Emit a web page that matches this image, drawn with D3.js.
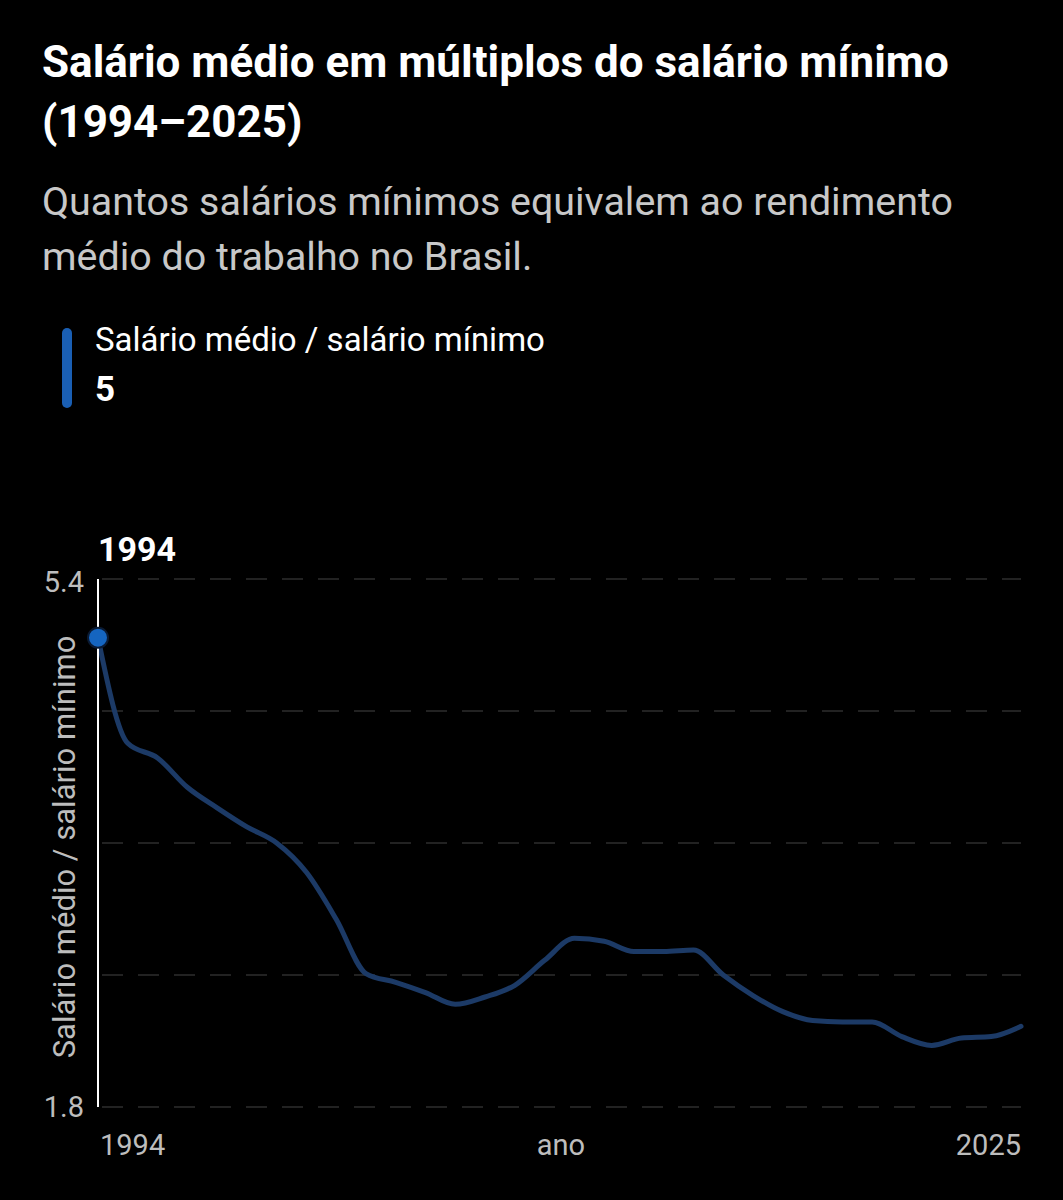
<!DOCTYPE html>
<html>
<head>
<meta charset="utf-8">
<script src="https://cdn.jsdelivr.net/npm/d3@7"></script>
<style>
  html, body { margin: 0; padding: 0; background: #000; }
  svg { display: block; font-family: Roboto, "Noto Sans", sans-serif; }
</style>
</head>
<body>
<div id="chart"></div>
<script>
// dados
var years = d3.range(1994, 2026)
var ratio = [5.0, 4.28, 4.18, 3.98, 3.84, 3.71, 3.60, 3.40, 3.08, 2.71,
             2.65, 2.58, 2.50, 2.55, 2.63, 2.80, 2.95, 2.93, 2.86, 2.86,
             2.87, 2.70, 2.56, 2.45, 2.39, 2.38, 2.38, 2.28, 2.22, 2.27,
             2.28, 2.35]
var yTicks = [5.4, 1.8]
var yGrid = [5.4, 4.5, 3.6, 2.7, 1.8]
var xTicks = [1994, 2025]

const svgWidth = 1063
const svgHeight = 1200
var plot = {left: 98, right: 1021, top: 579, bottom: 1107}

var svg = d3.select("#chart").append("svg")
    .attr("width", svgWidth)
    .attr("height", svgHeight)

// título e subtítulo
svg.append("text").attr("x", 42).attr("y", 77)
    .attr("fill", "#fff").style("font-size", "44px").style("font-weight", "700")
    .text("Salário médio em múltiplos do salário mínimo")
svg.append("text").attr("x", 42).attr("y", 137)
    .attr("fill", "#fff").style("font-size", "44px").style("font-weight", "700")
    .text("(1994–2025)")
svg.append("text").attr("x", 42).attr("y", 215)
    .attr("fill", "#c8c8c8").style("font-size", "39.4px")
    .text("Quantos salários mínimos equivalem ao rendimento")
svg.append("text").attr("x", 42).attr("y", 270)
    .attr("fill", "#c8c8c8").style("font-size", "39.4px")
    .text("médio do trabalho no Brasil.")

// legenda
svg.append("rect").attr("x", 62).attr("y", 328).attr("width", 10).attr("height", 80)
    .attr("rx", 5).attr("fill", "#1a5fb4")
svg.append("text").attr("x", 95).attr("y", 351)
    .attr("fill", "#fff").style("font-size", "33px")
    .text("Salário médio / salário mínimo")
svg.append("text").attr("x", 95).attr("y", 401)
    .attr("fill", "#fff").style("font-size", "35px").style("font-weight", "700")
    .text(d3.format(".0f")(ratio[0]))

var x = d3.scaleLinear().domain([1994, 2025]).range([plot.left, plot.right])
var y = d3.scaleLinear().domain([1.8, 5.4]).range([plot.bottom, plot.top])

// grade tracejada
svg.append("g").selectAll("line").data(yGrid).enter().append("line")
    .attr("x1", plot.left + 4).attr("x2", plot.right)
    .attr("y1", d => y(d)).attr("y2", d => y(d))
    .attr("stroke", "#2e2e2e").attr("stroke-width", 1.5)
    .attr("stroke-dasharray", "21,15")

// rótulos do eixo y
svg.append("g").selectAll("text").data(yTicks).enter().append("text")
    .attr("x", plot.left - 14).attr("y", (d, i) => y(d) + (i === 0 ? 13 : 10))
    .attr("text-anchor", "end").attr("fill", "#bdbdbd")
    .style("font-size", "29px")
    .text(d => d.toFixed(1))

svg.append("text")
    .attr("transform", "translate(75," + ((plot.top + plot.bottom) / 2 + 4) + ") rotate(-90)")
    .attr("text-anchor", "middle").attr("fill", "#bdbdbd")
    .style("font-size", "31px")
    .text("Salário médio / salário mínimo")

// rótulos do eixo x
svg.append("g").selectAll("text").data(xTicks).enter().append("text")
    .attr("x", (d, i) => i === 0 ? x(d) + 2 : x(d))
    .attr("y", 1155)
    .attr("text-anchor", (d, i) => i === 0 ? "start" : "end")
    .attr("fill", "#bdbdbd").style("font-size", "29px")
    .text(d => d)
svg.append("text").attr("x", 561).attr("y", 1155)
    .attr("text-anchor", "middle").attr("fill", "#bdbdbd").style("font-size", "29px")
    .text("ano")

// linha
var line = d3.line()
    .x((d, i) => x(years[i]))
    .y(d => y(d))
    .curve(d3.curveMonotoneX)

svg.append("path").datum(ratio)
    .attr("d", line)
    .attr("fill", "none")
    .attr("stroke", "#1c3a66")
    .attr("stroke-width", 5)
    .attr("stroke-linecap", "round")

// marcador do ano selecionado
svg.append("line")
    .attr("x1", x(years[0])).attr("x2", x(years[0]))
    .attr("y1", plot.top).attr("y2", plot.bottom)
    .attr("stroke", "#fff").attr("stroke-width", 2)
svg.append("circle")
    .attr("cx", x(years[0])).attr("cy", y(ratio[0])).attr("r", 10)
    .attr("fill", "#1565c0").attr("stroke", "#0a1a33").attr("stroke-width", 2)
svg.append("text").attr("x", x(years[0])).attr("y", 561)
    .attr("fill", "#fff").style("font-size", "34px").style("font-weight", "700")
    .text(years[0])
</script>
</body>
</html>
